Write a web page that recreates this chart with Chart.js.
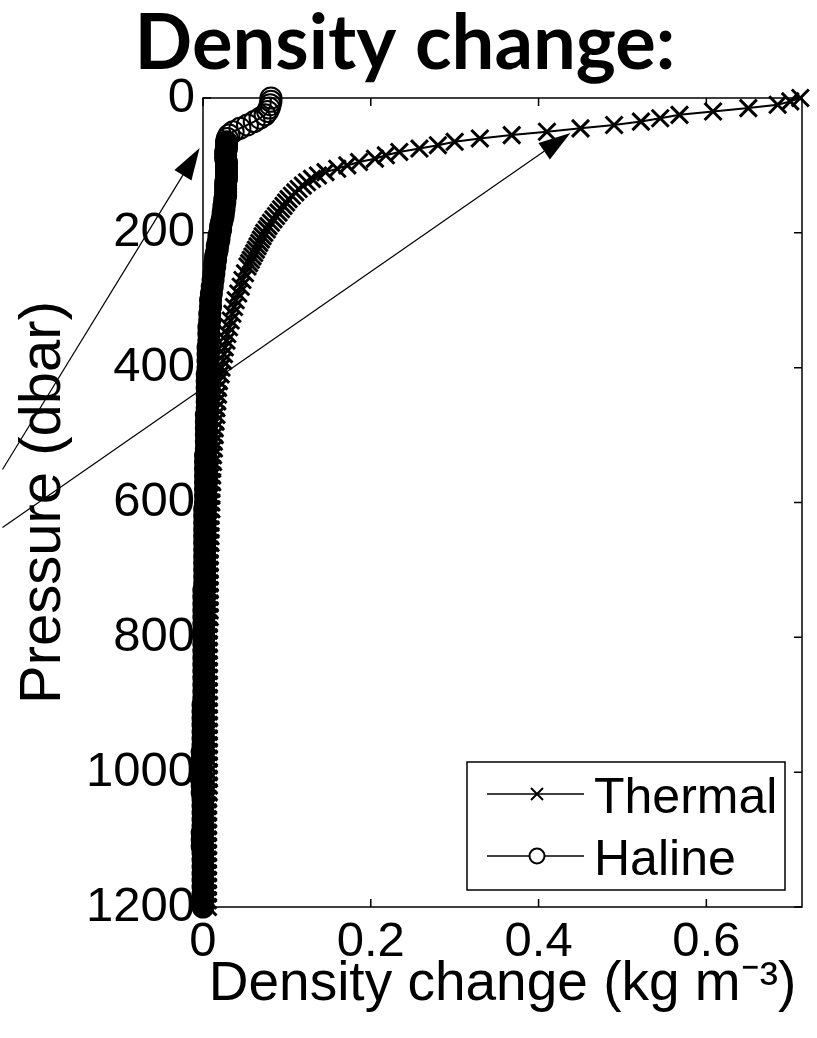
<!DOCTYPE html>
<html>
<head>
<meta charset="utf-8">
<script src="https://cdn.jsdelivr.net/npm/chart.js@4.4.1/dist/chart.umd.min.js"></script>
<style>
  html, body { margin: 0; padding: 0; background: #fff; }
  #wrap { width: 817px; height: 1038px; }
</style>
</head>
<body>
<div id="wrap"><canvas id="grafico"></canvas></div>
<script>
// pressure levels (dbar): every 5 dbar to 250, then every 10 dbar
const pressure = [
  0, 5, 10, 15, 20, 25, 30, 35, 40, 45,
  50, 55, 60, 65, 70, 75, 80, 85, 90, 95,
  100, 105, 110, 115, 120, 125, 130, 135, 140, 145,
  150, 155, 160, 165, 170, 175, 180, 185, 190, 195,
  200, 205, 210, 215, 220, 225, 230, 235, 240, 245,
  250,
  260, 270, 280, 290, 300, 310, 320, 330, 340, 350,
  360, 370, 380, 390, 400, 410, 420, 430, 440, 450,
  460, 470, 480, 490, 500, 510, 520, 530, 540, 550,
  560, 570, 580, 590, 600, 610, 620, 630, 640, 650,
  660, 670, 680, 690, 700, 710, 720, 730, 740, 750,
  760, 770, 780, 790, 800, 810, 820, 830, 840, 850,
  860, 870, 880, 890, 900, 910, 920, 930, 940, 950,
  960, 970, 980, 990, 1000, 1010, 1020, 1030, 1040, 1050,
  1060, 1070, 1080, 1090, 1100, 1110, 1120, 1130, 1140, 1150,
  1160, 1170, 1180, 1190, 1200
];

// thermal density change (kg m^-3)
const thermal = [
  .712, .700, .685, .650, .608, .568, .545, .522, .490, .450,
  .410, .368, .330, .300, .280, .258, .234, .218, .205, .186,
  .172, .160, .146, .137, .130, .124, .119, .114, .110, .106,
  .102, .099, .096, .093, .090, .087, .084, .081, .078, .076,
  .073, .071, .069, .067, .065, .063, .061, .059, .057, .055,
  .053,
  .050, .047, .045, .042, .039, .037, .035, .033, .031, .029,
  .028, .026, .025, .024, .022, .021, .019, .018, .018, .017,
  .016, .016, .015, .014, .014, .013, .013, .012, .012, .011,
  .011, .011, .010, .010, .010, .010, .009, .009, .009, .009,
  .009, .008, .008, .008, .008, .008, .008, .008, .008, .008,
  .008, .008, .007, .007, .007, .007, .007, .007, .007, .007,
  .007, .007, .007, .007, .007, .007, .007, .007, .007, .007,
  .007, .007, .007, .007, .007, .007, .007, .007, .006, .006,
  .006, .006, .006, .006, .006, .006, .006, .006, .006, .006,
  .006, .006, .006, .006, .006
];

// haline density change (kg m^-3)
const haline = [
  .081, .081, .080, .079, .077, .074, .068, .061, .053, .044,
  .036, .031, .029, .028, .028, .028, .027, .027, .027, .028,
  .028, .028, .028, .028, .028, .027, .027, .027, .027, .027,
  .026, .026, .025, .025, .024, .024, .023, .022, .021, .021,
  .020, .019, .019, .018, .017, .017, .016, .015, .015, .014,
  .014,
  .013, .012, .011, .010, .009, .009, .008, .008, .007, .007,
  .007, .006, .006, .006, .006, .005, .005, .005, .005, .005,
  .005, .004, .004, .004, .004, .004, .004, .003, .003, .003,
  .003, .003, .003, .003, .003, .002, .002, .002, .002, .002,
  .002, .002, .002, .002, .002, .002, .002, .001, .001, .001,
  .001, .001, .001, .001, .001, .001, .001, .001, .001, .001,
  .001, .001, .001, .001, .000, .000, .000, .000, .000, .000,
  .000, -.001, -.001, -.002, -.002, -.002, -.001, -.001, .000, .000,
  .000, .000, .000, -.001, -.001, -.001, .000, .000, .000, .000,
  .000, .000, .000, .000, .000
];

const seriesNames = ["Thermal", "Haline"];
const xMax = 0.714;
const yTicks = [0, 200, 400, 600, 800, 1000, 1200];

// annotation arrows, in data units [density, pressure]
const arrowFrom = [[-0.239, 551], [-0.239, 637]];
const arrowTo = [[-0.004, 74], [0.438, 52]];

const FONT = "'Liberation Sans', Arial, Helvetica, sans-serif";

const toPoints = vals => vals.map((v, i) => ({ x: v, y: pressure[i] }));

// frame with inward tick marks on all four sides
const axesBox = {
  id: "axesBox",
  beforeDatasetsDraw(chart) {
    const { ctx, chartArea: a, scales: { x, y } } = chart;
    const len = 8;
    ctx.save();
    ctx.strokeStyle = "#000";
    ctx.lineWidth = 1.5;
    ctx.strokeRect(a.left, a.top, a.right - a.left, a.bottom - a.top);
    ctx.beginPath();
    x.ticks.forEach(t => {
      const px = x.getPixelForValue(t.value);
      ctx.moveTo(px, a.bottom); ctx.lineTo(px, a.bottom - len);
      ctx.moveTo(px, a.top); ctx.lineTo(px, a.top + len);
    });
    y.ticks.forEach(t => {
      const py = y.getPixelForValue(t.value);
      ctx.moveTo(a.left, py); ctx.lineTo(a.left + len, py);
      ctx.moveTo(a.right, py); ctx.lineTo(a.right - len, py);
    });
    ctx.stroke();
    ctx.restore();
  }
};

// arrows pointing into the plot
const arrows = {
  id: "arrows",
  afterDraw(chart) {
    const { ctx, scales: { x, y } } = chart;
    ctx.save();
    ctx.strokeStyle = "#000";
    ctx.fillStyle = "#000";
    ctx.lineWidth = 1.2;
    arrowFrom.forEach((f, i) => {
      const x0 = x.getPixelForValue(f[0]), y0 = y.getPixelForValue(f[1]);
      const x1 = x.getPixelForValue(arrowTo[i][0]), y1 = y.getPixelForValue(arrowTo[i][1]);
      const ang = Math.atan2(y1 - y0, x1 - x0);
      const hl = 32, hw = 10;
      const bx = x1 - hl * Math.cos(ang), by = y1 - hl * Math.sin(ang);
      ctx.beginPath();
      ctx.moveTo(x0, y0);
      ctx.lineTo(bx, by);
      ctx.stroke();
      ctx.beginPath();
      ctx.moveTo(x1, y1);
      ctx.lineTo(bx + hw * Math.sin(ang), by - hw * Math.cos(ang));
      ctx.lineTo(bx - hw * Math.sin(ang), by + hw * Math.cos(ang));
      ctx.closePath();
      ctx.fill();
    });
    ctx.restore();
  }
};

// MATLAB-style legend box in the lower right corner
const legendBox = {
  id: "legendBox",
  afterDraw(chart) {
    const { ctx, chartArea: a } = chart;
    const w = 318, h = 128;
    const left = a.right - 17 - w, top = a.bottom - 17 - h;
    ctx.save();
    ctx.fillStyle = "#fff";
    ctx.fillRect(left, top, w, h);
    ctx.strokeStyle = "#000";
    ctx.lineWidth = 1.5;
    ctx.strokeRect(left, top, w, h);
    ctx.font = "50px " + FONT;
    ctx.fillStyle = "#000";
    ctx.textBaseline = "alphabetic";
    seriesNames.forEach((name, i) => {
      const cy = top + 32 + i * 62;
      ctx.beginPath();
      ctx.lineWidth = 1.5;
      ctx.moveTo(left + 20, cy);
      ctx.lineTo(left + 117, cy);
      ctx.stroke();
      const mx = left + 70;
      ctx.lineWidth = 2;
      ctx.beginPath();
      if (i === 0) {
        ctx.moveTo(mx - 6, cy - 6); ctx.lineTo(mx + 6, cy + 6);
        ctx.moveTo(mx + 6, cy - 6); ctx.lineTo(mx - 6, cy + 6);
        ctx.stroke();
      } else {
        ctx.fillStyle = "#fff";
        ctx.arc(mx, cy, 7.5, 0, Math.PI * 2);
        ctx.fill();
        ctx.stroke();
        ctx.fillStyle = "#000";
      }
      ctx.fillText(name, left + 127, cy + 19);
    });
    ctx.restore();
  }
};

new Chart(document.getElementById("grafico"), {
  type: "scatter",
  data: {
    datasets: [
      {
        label: seriesNames[0],
        data: toPoints(thermal),
        showLine: true,
        borderColor: "#000",
        borderWidth: 2,
        pointStyle: "crossRot",
        pointRadius: 12,
        pointBorderWidth: 3,
        pointBorderColor: "#000",
        pointBackgroundColor: "#000",
        clip: false
      },
      {
        label: seriesNames[1],
        data: toPoints(haline),
        showLine: true,
        borderColor: "#000",
        borderWidth: 2,
        pointStyle: "circle",
        pointRadius: 10.5,
        pointBorderWidth: 2,
        pointBorderColor: "#000",
        // hollow circles near the surface, solid band where markers pile up
        pointBackgroundColor: ctx => (ctx.raw && ctx.raw.y > 62 ? "#000" : "rgba(0,0,0,0)"),
        clip: false
      }
    ]
  },
  options: {
    responsive: true,
    maintainAspectRatio: false,
    animation: false,
    events: [],
    layout: { padding: { left: 0, right: 7, top: 0, bottom: 0 } },
    plugins: {
      legend: { display: false },
      tooltip: { enabled: false },
      title: {
        display: true,
        text: "Density change:",
        color: "#000",
        font: { family: "Lato, 'Open Sans', sans-serif", weight: "bold", size: 76, lineHeight: 1.0 },
        padding: { top: 6, bottom: 16 }
      }
    },
    scales: {
      x: {
        type: "linear",
        min: 0,
        max: xMax,
        grid: { display: false, drawTicks: false },
        border: { display: false },
        ticks: {
          stepSize: 0.2,
          includeBounds: false,
          color: "#000",
          padding: 6,
          maxRotation: 0,
          font: { family: FONT, size: 49 }
        },
        title: {
          display: true,
          text: "Density change (kg m\u207B\u00B3)",
          color: "#000",
          font: { family: FONT, size: 55 },
          padding: { top: 0, bottom: 20 }
        },
        afterFit(scale) { scale.height = 131; }
      },
      y: {
        type: "linear",
        reverse: true,
        min: 0,
        max: 1200,
        grid: { display: false, drawTicks: false },
        border: { display: false },
        afterBuildTicks(scale) { scale.ticks = yTicks.map(v => ({ value: v })); },
        ticks: {
          color: "#000",
          padding: 8,
          font: { family: FONT, size: 49 },
          callback: v => String(v)
        },
        title: {
          display: true,
          text: "Pressure (dbar)",
          color: "#000",
          font: { family: FONT, size: 58 },
          padding: { top: 9, bottom: 0 }
        },
        afterFit(scale) { scale.width = 203; }
      }
    }
  },
  plugins: [axesBox, arrows, legendBox]
});
</script>
</body>
</html>
